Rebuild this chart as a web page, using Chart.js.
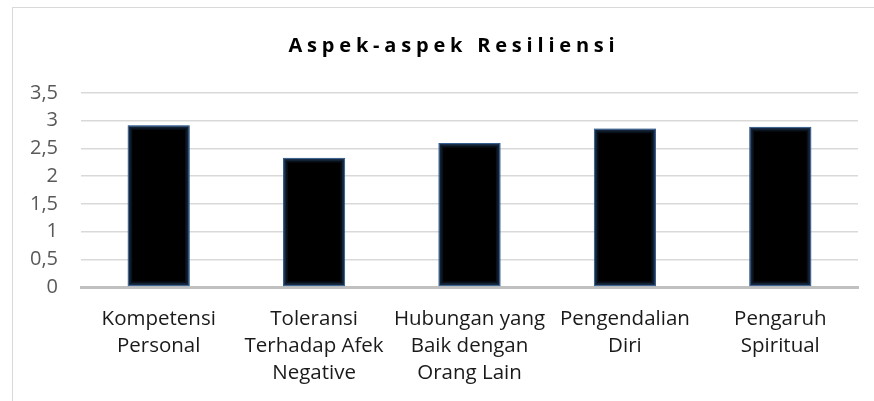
<!DOCTYPE html>
<html>
<head>
<meta charset="utf-8">
<script src="https://cdn.jsdelivr.net/npm/chart.js@4"></script>
<style>
  html, body { margin: 0; padding: 0; background: #fff; }
  #wrap { position: relative; width: 874px; height: 401px; overflow: hidden; }
  #frame { position: absolute; left: 12px; top: 7px; width: 900px; height: 420px;
           border-left: 1px solid #d9d9d9; border-top: 1px solid #d9d9d9; }
  #judul { position: absolute; left: 454px; top: 31px; transform: translateX(-50%);
           white-space: nowrap; line-height: 26px;
           font: bold 20px "Open Sans", sans-serif; letter-spacing: 4.8px; color: #000; }
  canvas { position: absolute; left: 0; top: 0; }
</style>
</head>
<body>
<div id="wrap">
  <div id="frame"></div>
  <canvas id="grafikResiliensi" width="874" height="401"></canvas>
  <div id="judul">Aspek-aspek Resiliensi</div>
</div>
<script>
const kategori = [
    ["Kompetensi", "Personal"],
    ["Toleransi", "Terhadap Afek", "Negative"],
    ["Hubungan yang", "Baik dengan", "Orang Lain"],
    ["Pengendalian", "Diri"],
    ["Pengaruh", "Spiritual"]
];
const nilai = [2.92, 2.33, 2.6, 2.86, 2.89];
const tickY = [0, 0.5, 1, 1.5, 2, 2.5, 3, 3.5];

// efek cahaya biru di tepi dalam batang
const glowBatang = {
    id: "glowBatang",
    afterDatasetDraw(chart, args) {
        const ctx = chart.ctx;
        ctx.save();
        args.meta.data.forEach(bar => {
            const p = bar.getProps(["x", "y", "base", "width"], true);
            const kiri = p.x - p.width / 2;
            const atas = Math.min(p.y, p.base);
            const tinggi = Math.abs(p.base - p.y);
            [0.55, 0.3, 0.15].forEach((a, i) => {
                ctx.strokeStyle = "rgba(60,110,170," + a + ")";
                ctx.lineWidth = 1.5;
                ctx.strokeRect(kiri + 1 + i * 1.5, atas + 1 + i * 1.5,
                    p.width - 2 - i * 3, tinggi - 2 - i * 3);
            });
        });
        ctx.restore();
    }
};

function buatGrafik() {
    new Chart(document.getElementById("grafikResiliensi"), {
        type: "bar",
        data: {
            labels: kategori,
            datasets: [{
                label: "Aspek-aspek Resiliensi",
                data: nilai,
                backgroundColor: "#000000",
                borderColor: "#2c5078",
                borderWidth: 1,
                borderSkipped: false,
                categoryPercentage: 1,
                barPercentage: 0.4
            }]
        },
        options: {
            responsive: false,
            animation: false,
            layout: { padding: { top: 93, right: 16, left: 0, bottom: 0 } },
            plugins: {
                legend: { display: false },
                tooltip: { enabled: false }
            },
            scales: {
                x: {
                    grid: { display: false },
                    border: { display: true, color: "#c0c0c0", width: 3 },
                    ticks: {
                        autoSkip: false,
                        maxRotation: 0,
                        padding: 11,
                        color: "#1a1a1a",
                        font: { family: "Open Sans", size: 20.5, lineHeight: 1.32 }
                    },
                    afterFit: function (skala) { skala.height = 114; }
                },
                y: {
                    min: 0,
                    max: 3.5,
                    afterBuildTicks: function (skala) {
                        skala.ticks = tickY.map(v => ({ value: v }));
                    },
                    grid: { color: "#d9d9d9", lineWidth: 1.5, drawTicks: false },
                    border: { display: false },
                    ticks: {
                        padding: 23,
                        color: "#595959",
                        font: { family: "Open Sans", size: 20 },
                        callback: v => String(v).replace(".", ",")
                    },
                    afterFit: function (skala) { skala.width = 81; }
                }
            }
        },
        plugins: [glowBatang]
    });
}

document.addEventListener("DOMContentLoaded", buatGrafik);
</script>
</body>
</html>
